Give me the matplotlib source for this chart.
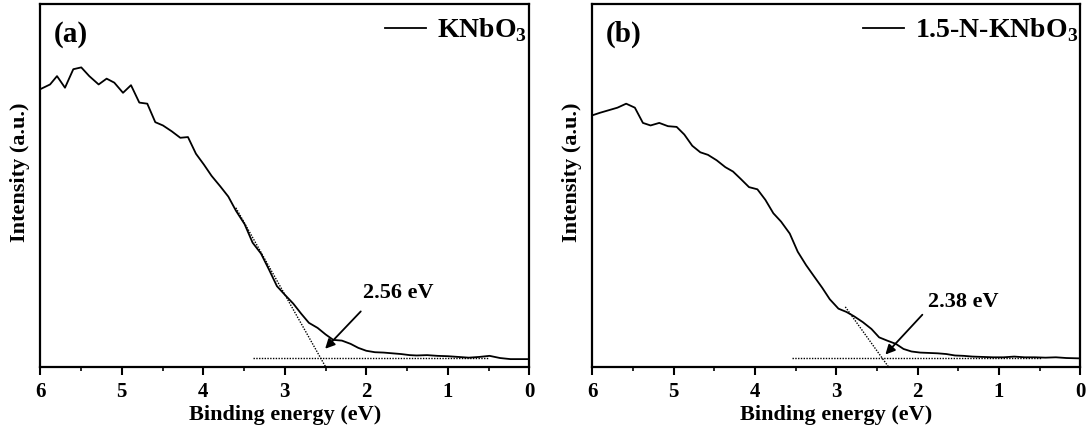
import numpy as np
import matplotlib.pyplot as plt

plt.rcParams['font.family'] = ['Liberation Serif', 'DejaVu Serif']
plt.rcParams['font.weight'] = 'bold'
plt.rcParams['mathtext.fontset'] = 'custom'
plt.rcParams['mathtext.rm'] = 'Liberation Serif:bold'
plt.rcParams['mathtext.bf'] = 'Liberation Serif:bold'

# panel (a) KNbO3
xa = [6.00, 5.88, 5.795, 5.697, 5.595, 5.497, 5.399, 5.284, 5.186, 5.092, 4.985,
      4.887, 4.785, 4.687, 4.589, 4.495, 4.388, 4.282, 4.188, 4.090, 3.992, 3.898,
      3.791, 3.693, 3.599, 3.493, 3.395, 3.292, 3.194, 3.096, 3.002, 2.896, 2.798,
      2.704, 2.597, 2.499, 2.405, 2.299, 2.192, 2.098, 2.000, 1.894, 1.787, 1.681,
      1.574, 1.467, 1.382, 1.254, 1.126, 0.998, 0.870, 0.742, 0.615, 0.487, 0.359,
      0.231, 0.103, 0.0]
ya = [0.765, 0.778, 0.801, 0.769, 0.820, 0.825, 0.801, 0.778, 0.794, 0.783, 0.755,
      0.776, 0.728, 0.725, 0.674, 0.665, 0.649, 0.631, 0.633, 0.587, 0.557, 0.526,
      0.497, 0.469, 0.430, 0.393, 0.342, 0.312, 0.268, 0.222, 0.199, 0.174, 0.146,
      0.121, 0.107, 0.089, 0.074, 0.072, 0.063, 0.052, 0.044, 0.040, 0.039, 0.037,
      0.035, 0.032, 0.031, 0.032, 0.030, 0.029, 0.027, 0.025, 0.027, 0.030, 0.024,
      0.021, 0.021, 0.021]

# panel (b) 1.5-N-KNbO3
xb = [6.0, 5.906, 5.799, 5.692, 5.585, 5.478, 5.379, 5.285, 5.178, 5.071, 4.964,
      4.870, 4.772, 4.673, 4.579, 4.472, 4.365, 4.271, 4.173, 4.074, 3.971, 3.873,
      3.775, 3.680, 3.573, 3.475, 3.372, 3.274, 3.175, 3.081, 2.974, 2.876, 2.782,
      2.675, 2.568, 2.474, 2.375, 2.268, 2.174, 2.076, 1.969, 1.862, 1.755, 1.648,
      1.541, 1.434, 1.327, 1.198, 1.070, 0.942, 0.813, 0.685, 0.556, 0.428, 0.300,
      0.171, 0.0]
yb = [0.693, 0.700, 0.707, 0.714, 0.725, 0.714, 0.672, 0.665, 0.672, 0.663, 0.661,
      0.640, 0.609, 0.591, 0.584, 0.569, 0.550, 0.538, 0.517, 0.495, 0.489, 0.460,
      0.423, 0.400, 0.367, 0.317, 0.280, 0.249, 0.218, 0.186, 0.160, 0.151, 0.139,
      0.123, 0.104, 0.081, 0.072, 0.063, 0.049, 0.042, 0.039, 0.038, 0.037, 0.035,
      0.031, 0.030, 0.028, 0.027, 0.026, 0.026, 0.028, 0.026, 0.026, 0.025, 0.026,
      0.024, 0.023]

# tangent and baseline lines (x, y)
tan_a = ([3.60, 2.50], [0.438, 0.0])
base_a = ([3.39, 0.5], [0.024, 0.024])
tan_b = ([2.89, 2.36], [0.165, 0.0])
base_b = ([3.55, 0.47], [0.023, 0.023])

labels = ['KNbO$_3$', '1.5-N-KNbO$_3$']
tags = ['(a)', '(b)']
gaps = ['2.56 eV', '2.38 eV']
arrow_tail = [(2.044, 0.158), (1.919, 0.149)]
arrow_head = [(2.528, 0.044), (2.42, 0.028)]
text_pos = [(2.04, 0.202), (1.87, 0.179)]

fig = plt.figure(figsize=(10.89, 4.34), dpi=100)
ax1 = fig.add_axes([0.037, 0.155, 0.449, 0.836])
ax2 = fig.add_axes([0.544, 0.155, 0.448, 0.836])

data = [(xa, ya, tan_a, base_a), (xb, yb, tan_b, base_b)]
for i, ax in enumerate([ax1, ax2]):
    x, y, tl, bl = data[i]
    ax.plot(x, y, color='black', lw=1.3, label=labels[i])
    ax.plot(tl[0], tl[1], color='black', lw=1.0, ls=(0, (1, 1)))
    ax.plot(bl[0], bl[1], color='black', lw=1.0, ls=(0, (1, 1)))
    ax.annotate('', xy=arrow_head[i], xytext=arrow_tail[i],
                arrowprops=dict(arrowstyle='-|>', color='black', lw=1.3,
                                mutation_scale=14))
    ax.text(text_pos[i][0], text_pos[i][1], gaps[i], fontsize=16,
            fontweight='bold', ha='left', va='center')
    ax.text(0.027, 0.917, tags[i], transform=ax.transAxes, fontsize=21,
            fontweight='bold', ha='left', va='center')
    ax.set_xlim(6, 0)
    ax.set_ylim(0, 1)
    ax.set_yticks([])
    ax.set_xticks([6, 5, 4, 3, 2, 1, 0])
    ax.set_xticks(np.arange(0.5, 6, 1), minor=True)
    ax.tick_params(axis='x', which='major', direction='out', length=6, width=1.5,
                   labelsize=15, pad=5)
    ax.tick_params(axis='x', which='minor', direction='out', length=3, width=1.2)
    for s in ax.spines.values():
        s.set_linewidth(1.6)
    ax.set_xlabel('Binding energy (eV)', fontsize=16, fontweight='bold', labelpad=2)
    ax.set_ylabel('Intensity (a.u.)', fontsize=16, fontweight='bold')
    ax.yaxis.set_label_coords(-0.022, 0.537)
    ax.legend(loc='upper right', bbox_to_anchor=(1.015, 0.992), frameon=False,
              fontsize=20, handlelength=1.45, handletextpad=0.4,
              borderaxespad=0.0, borderpad=0.35)

fig.savefig('out.png', dpi=100)
